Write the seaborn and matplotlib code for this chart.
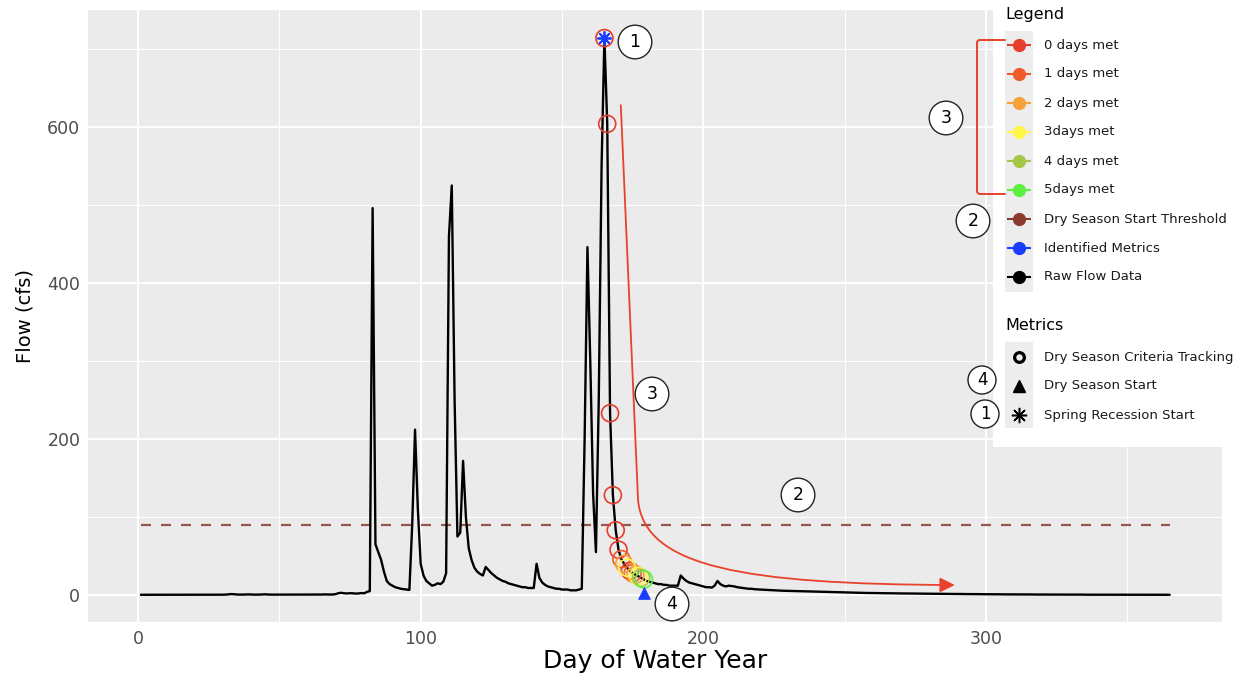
import matplotlib
matplotlib.use("Agg")
import matplotlib.pyplot as plt
import numpy as np
import pandas as pd
import seaborn as sns
from matplotlib.path import Path
from matplotlib.patches import FancyArrowPatch, Rectangle
from matplotlib.lines import Line2D
from matplotlib.ticker import MultipleLocator

W, H = 1242, 680

# ---------------- data ----------------
days = list(range(1, 366))
flow = [
    0.3, 0.3, 0.3, 0.3, 0.3, 0.3, 0.3, 0.3, 0.3, 0.3,          # 1-10
    0.3, 0.3, 0.3, 0.3, 0.3, 0.3, 0.3, 0.3, 0.3, 0.3,          # 11-20
    0.3, 0.3, 0.3, 0.3, 0.3, 0.3, 0.3, 0.3, 0.3, 0.4,          # 21-30
    0.5, 0.8, 1.2, 1.0, 0.6, 0.5, 0.5, 0.6, 0.8, 0.6,          # 31-40
    0.5, 0.5, 0.5, 0.7, 0.9, 0.6, 0.5, 0.5, 0.5, 0.5,          # 41-50
    0.5, 0.5, 0.5, 0.5, 0.5, 0.6, 0.6, 0.5, 0.5, 0.5,          # 51-60
    0.5, 0.5, 0.5, 0.5, 0.6, 0.8, 0.7, 0.6, 0.7, 1.2,          # 61-70
    2.5, 2.8, 2.2, 2.0, 2.3, 2.2, 1.8, 2.0, 2.5, 2.2,          # 71-80
    4, 5, 496, 65, 55, 45, 30, 18, 14, 12,                     # 81-90
    10, 9, 8, 7.5, 7, 6.5, 90, 212, 110, 40,                   # 91-100
    25, 18, 15, 12, 13, 15, 14, 17, 28, 460,                   # 101-110
    525, 250, 75, 80, 172, 100, 60, 45, 35, 30,                # 111-120
    27, 25, 36, 32, 28, 25, 22, 20, 18, 17,                    # 121-130
    15, 14, 13, 12, 11, 10, 10, 9, 9, 9,                       # 131-140
    40, 22, 16, 13, 11, 10, 9, 8, 8, 7,                        # 141-150
    7, 7, 6, 6, 6, 7, 8, 200, 446, 300,                        # 151-160
    130, 55, 250, 550, 714, 604, 233, 128, 83, 58,             # 161-170
    46, 40, 35, 31, 28, 26, 24, 22, 20, 18,                    # 171-180
    17, 16, 15, 14, 14, 13, 13, 12, 12, 12,                    # 181-190
    12, 25, 21, 18, 16, 15, 14, 13, 12, 11,                    # 191-200
    10, 10, 9.5, 12, 18, 14, 12, 11, 12, 11.5,                 # 201-210
    11, 10, 9.5, 9, 8.5, 8, 8, 7.5, 7.2, 7,                    # 211-220
    6.8, 6.6, 6.4, 6.2, 6.0, 5.8, 5.6, 5.5, 5.4, 5.3,          # 221-230
    5.2, 5.1, 5.0, 4.9, 4.8, 4.6, 4.5, 4.4, 4.3, 4.2,          # 231-240
    4.1, 4.0, 3.9, 3.8, 3.7, 3.6, 3.5, 3.4, 3.3, 3.2,          # 241-250
    3.1, 3.0, 3.0, 2.9, 2.8, 2.8, 2.7, 2.6, 2.6, 2.5,          # 251-260
    2.5, 2.4, 2.4, 2.3, 2.3, 2.2, 2.2, 2.1, 2.1, 2.0,          # 261-270
    2.0, 2.0, 1.9, 1.9, 1.8, 1.8, 1.8, 1.7, 1.7, 1.6,          # 271-280
    1.6, 1.6, 1.5, 1.5, 1.5, 1.4, 1.4, 1.4, 1.3, 1.3,          # 281-290
    1.3, 1.2, 1.2, 1.2, 1.1, 1.1, 1.1, 1.0, 1.0, 1.0,          # 291-300
    1.0, 0.9, 0.9, 0.9, 0.9, 0.8, 0.8, 0.8, 0.8, 0.8,          # 301-310
    0.7, 0.7, 0.7, 0.7, 0.7, 0.7, 0.6, 0.6, 0.6, 0.6,          # 311-320
    0.6, 0.6, 0.6, 0.5, 0.5, 0.5, 0.5, 0.5, 0.5, 0.5,          # 321-330
    0.5, 0.5, 0.5, 0.5, 0.4, 0.4, 0.4, 0.4, 0.4, 0.4,          # 331-340
    0.4, 0.4, 0.4, 0.4, 0.4, 0.4, 0.3, 0.3, 0.3, 0.3,          # 341-350
    0.3, 0.3, 0.3, 0.3, 0.3, 0.3, 0.3, 0.3, 0.3, 0.3,          # 351-360
    0.3, 0.3, 0.3, 0.3, 0.3,                                   # 361-365
]
threshold_days = [1, 365]
threshold_flow = [90, 90]

track_days = [165, 166, 167, 168, 169, 170, 171, 172, 173, 174, 175, 176, 177, 178, 179]
track_status = ["0 days met"] * 6 + ["1 days met", "2 days met", "3days met", "0 days met",
                                     "1 days met", "2 days met", "3days met", "4 days met", "5days met"]

recession_day, recession_flow = [165], [714]
dry_start_day, dry_start_flow = [179], [2]

legend_labels = ["0 days met", "1 days met", "2 days met", "3days met", "4 days met",
                 "5days met", "Dry Season Start Threshold", "Identified Metrics", "Raw Flow Data"]
legend_colors = ["#E63E2C", "#EE5C2C", "#F4A23C", "#FFF64A", "#A6C64A",
                 "#5EF03E", "#8B3A2E", "#1A3CFF", "#000000"]
metric_labels = ["Dry Season Criteria Tracking", "Dry Season Start", "Spring Recession Start"]

status_color = dict(zip(legend_labels[:6], legend_colors[:6]))
BLUE = legend_colors[7]
THRESH = "#94574B"
RED = "#E8412C"

# ---------------- theme ----------------
sns.set_theme(style="darkgrid", rc={
    "axes.facecolor": "#EBEBEB", "figure.facecolor": "white", "grid.color": "white",
    "xtick.major.size": 4, "ytick.major.size": 4, "xtick.minor.size": 0, "ytick.minor.size": 0,
})
plt.rcParams["font.family"] = ["DejaVu Sans"]

fig = plt.figure(figsize=(W / 100, H / 100), dpi=100)
ax = fig.add_axes([88 / W, 1 - 622 / H, (1222 - 88) / W, (622 - 10) / H])

df = pd.DataFrame({"day": days, "flow": flow})
sns.lineplot(x=threshold_days, y=threshold_flow, color=THRESH, lw=1.6,
             linestyle=(0, (4.5, 4.5)), ax=ax, zorder=2)
sns.lineplot(data=df, x="day", y="flow", color="black", lw=1.7, ax=ax, zorder=3)

tdf = pd.DataFrame({"day": track_days, "status": track_status})
tdf["flow"] = [flow[d - 1] for d in track_days]
for lab in legend_labels[:6]:
    sub = tdf[tdf["status"] == lab]
    if len(sub):
        ax.scatter(sub["day"], sub["flow"], s=150, facecolors="none",
                   edgecolors=status_color[lab], linewidths=1.2, zorder=4)

sns.scatterplot(x=recession_day, y=recession_flow, marker=(8, 2, 0), s=90,
                color=BLUE, edgecolor=BLUE, linewidth=1.3, ax=ax, zorder=5, legend=False)
sns.scatterplot(x=dry_start_day, y=dry_start_flow, marker="^", s=70,
                color=BLUE, edgecolor=BLUE, ax=ax, zorder=5, legend=False)

# annotation arrow (3)
arrow_path = Path([(170.8, 628), (176.9, 122), (179, 35), (215, 14), (289, 12.8)],
                  [Path.MOVETO, Path.LINETO, Path.CURVE4, Path.CURVE4, Path.CURVE4])
arr = FancyArrowPatch(path=arrow_path, arrowstyle="-|>,head_length=0.45,head_width=0.22",
                      mutation_scale=20, color=RED, lw=1.3, transform=ax.transData, zorder=6)
ax.add_patch(arr)

ax.set_xlim(-17.7, 383.5)
ax.set_ylim(-34.6, 750)
ax.xaxis.set_major_locator(MultipleLocator(100))
ax.xaxis.set_minor_locator(MultipleLocator(50))
ax.yaxis.set_major_locator(MultipleLocator(200))
ax.yaxis.set_minor_locator(MultipleLocator(100))
ax.grid(True, which="major", color="white", lw=1.4)
ax.grid(True, which="minor", color="white", lw=0.7)
for s in ax.spines.values():
    s.set_visible(False)
ax.tick_params(which="major", length=4, width=1.1, color="#333333",
               labelcolor="#4D4D4D", labelsize=12.5, pad=1.5)
ax.set_xlabel("Day of Water Year", fontsize=18, color="black", labelpad=1)
ax.set_ylabel("Flow (cfs)", fontsize=14, color="black", labelpad=9)

# ---------------- legend panel ----------------
lax = fig.add_axes([993 / W, 1 - 447 / H, (W - 993) / W, 447 / H], zorder=10)
lax.set_facecolor("white")
lax.set_xlim(993, W)
lax.set_ylim(447, 0)
lax.set_xticks([])
lax.set_yticks([])
lax.grid(False)
for s in lax.spines.values():
    s.set_visible(False)

lax.text(1005, 15, "Legend", fontsize=11.5, va="center", ha="left", color="black")
lax.add_patch(Rectangle((1005, 31), 28, 261, color="#EDEDED", lw=0))
for i, (lab, col) in enumerate(zip(legend_labels, legend_colors)):
    y = 45 + 29 * i
    lax.plot([1007, 1031], [y, y], color=col, lw=1.5, solid_capstyle="butt")
    lax.plot([1019], [y], marker="o", ms=8.5, color=col, mec=col)
    lax.text(1044, y, lab, fontsize=9.5, va="center", ha="left", color="#1A1A1A")

lax.text(1005, 325, "Metrics", fontsize=11.5, va="center", ha="left", color="black")
lax.add_patch(Rectangle((1005, 342), 28, 86, color="#EDEDED", lw=0))
my = [357, 386, 415]
lax.plot([1019], [my[0]], marker="o", ms=7, mfc="none", mec="black", mew=2.3)
lax.plot([1019], [my[1]], marker="^", ms=8.5, color="black")
lax.plot([1019], [my[2]], marker=(8, 2, 0), ms=11, color="black", mew=1.1)
for y, lab in zip(my, metric_labels):
    lax.text(1044, y, lab, fontsize=9.5, va="center", ha="left", color="#1A1A1A")

# ---------------- numbered badges & bracket ----------------
def badge(px, py, s, fs=12.5, pad=0.45):
    fig.text(px / W, 1 - py / H, s, ha="center", va="center", fontsize=fs, color="black",
             zorder=30, bbox=dict(boxstyle=f"circle,pad={pad}", fc="white", ec="#222222", lw=1.0))

badge(635, 42, "1")
badge(652, 394, "3")
badge(798, 495, "2")
badge(672, 604, "4")
badge(946, 118, "3")
badge(973, 221, "2")
badge(982, 380, "4", fs=12, pad=0.3)
badge(985, 414, "1", fs=12, pad=0.3)

bx = [1005, 979, 977, 977, 979, 1005]
by = [40, 40, 42, 192, 194, 194]
fig.add_artist(Line2D([v / W for v in bx], [1 - v / H for v in by], color=RED, lw=1.4,
                      transform=fig.transFigure, zorder=25))

fig.savefig("out.png", dpi=100)
